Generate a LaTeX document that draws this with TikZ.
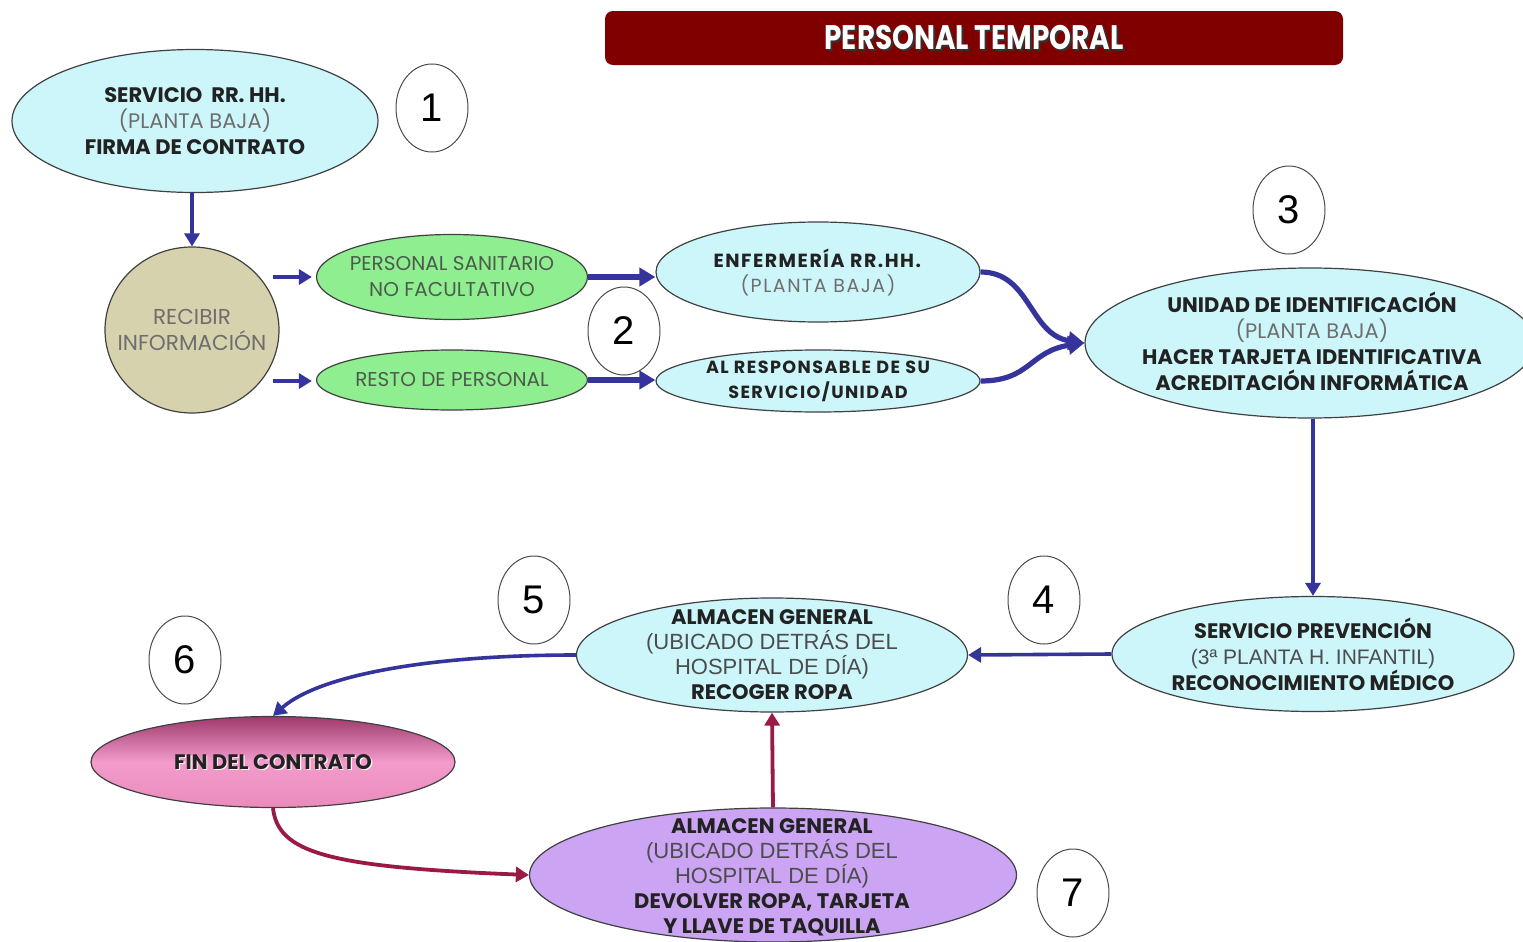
\documentclass[tikz,border=0pt]{standalone}
\usepackage{fontspec}
\setmainfont{Poppins}
\newfontfamily\arialf{Liberation Sans}
\usetikzlibrary{shapes.geometric,arrows.meta,calc}
\definecolor{cy}{HTML}{CCF6FA}
\definecolor{gr}{HTML}{8FEE8F}
\definecolor{kh}{HTML}{D7D2AE}
\definecolor{lav}{HTML}{CBA4F4}
\definecolor{titred}{HTML}{800000}
\definecolor{arrblue}{HTML}{34349C}
\definecolor{arrred}{HTML}{9A1A46}
\definecolor{lighttxt}{HTML}{6E6E6E}
\definecolor{greentxt}{HTML}{4C5C4C}
\definecolor{darktxt}{HTML}{222222}
\definecolor{pinktop}{HTML}{9E3A6C}
\definecolor{pinkmid}{HTML}{F39BCB}
\definecolor{pinkbot}{HTML}{E98CBD}
\begin{document}
\begin{tikzpicture}[x=0.5pt,y=-0.5pt,
  ell/.style={ellipse, draw=black!75, line width=0.6pt, inner sep=0pt},
  numc/.style={ellipse, draw=black!70, fill=white, line width=0.5pt, minimum width=36pt, minimum height=44pt, inner sep=0pt, font=\arialf\fontsize{20}{20}\selectfont},
  txt/.style={align=center, inner sep=0pt, text=darktxt, font=\fontsize{10.5}{13}\selectfont},
  barrow/.style={draw=arrblue, line width=2.6pt, -{Triangle[length=8pt,width=9pt]}},
  tarrow/.style={draw=arrblue, line width=1.8pt, -{Triangle[length=6.5pt,width=7.5pt]}},
  rarrow/.style={draw=arrred, line width=1.9pt, -{Triangle[length=6.5pt,width=7.5pt]}}]
\useasboundingbox (0,0) rectangle (1523,942);
\clip (0,0) rectangle (1523,942);
% title
\node[fill=titred, rounded corners=4pt, minimum width=369pt, minimum height=27pt, inner sep=0pt] (title) at (974,38) {};
\node[text=black!80, font=\bfseries\fontsize{17}{17}\selectfont] (titlesh) at ($(title)+(2,2)$) {\scalebox{0.82}[1]{PERSONAL TEMPORAL}};
\node[text=white, font=\bfseries\fontsize{17}{17}\selectfont] (titlet) at (title) {\scalebox{0.82}[1]{PERSONAL TEMPORAL}};
% nodes
\node[ell, fill=cy, minimum width=183pt, minimum height=71.5pt] (n1) at (195,121) {};
\node[txt] (n1t) at (n1) {\textbf{SERVICIO\ \ RR. HH.}\\{\color{lighttxt}(PLANTA BAJA)}\\\textbf{FIRMA DE CONTRATO}};
\node[numc] (c1) at (432,108) {1};
\node[ell, fill=kh, minimum width=87pt, minimum height=83pt] (rec) at (192,330) {};
\node[txt, text=lighttxt, font=\fontsize{10.8}{13}\selectfont] (rect) at (rec) {RECIBIR\\INFORMACIÓN};
\node[ell, fill=gr, minimum width=135.5pt, minimum height=42.5pt] (g1) at (452,277) {};
\node[txt, text=greentxt, font=\fontsize{10}{13}\selectfont] (g1t) at (g1) {PERSONAL SANITARIO\\NO FACULTATIVO};
\node[ell, fill=gr, minimum width=135.5pt, minimum height=30pt] (g2) at (452,380) {};
\node[txt, text=greentxt, font=\fontsize{10}{13}\selectfont] (g2t) at (g2) {RESTO DE PERSONAL};
\node[numc] (c2) at (624,331) {2};
\node[ell, fill=cy, minimum width=162pt, minimum height=50pt] (enf) at (818,272) {};
\node[txt, font=\fontsize{9.5}{12.5}\selectfont\addfontfeature{LetterSpace=8}] (enft) at (enf) {\textbf{ENFERMERÍA RR.HH.}\\{\color{lighttxt}(PLANTA BAJA)}};
\node[ell, fill=cy, minimum width=162pt, minimum height=31pt] (resp) at (818,381) {};
\node[txt, font=\bfseries\fontsize{8.8}{12.5}\selectfont\addfontfeature{LetterSpace=8}] (respt) at (resp) {AL RESPONSABLE DE SU\\SERVICIO/UNIDAD};
\node[numc] (c3) at (1289,210) {3};
\node[ell, fill=cy, minimum width=225pt, minimum height=75pt] (uni) at (1310,343) {};
\node[txt] (unit) at (1312,341) {\textbf{UNIDAD DE IDENTIFICACIÓN}\\{\color{lighttxt}(PLANTA BAJA)}\\\textbf{HACER TARJETA IDENTIFICATIVA}\\\textbf{ACREDITACIÓN INFORMÁTICA}};
\node[ell, fill=cy, minimum width=201pt, minimum height=57.5pt] (prev) at (1313,654) {};
\node[txt] (prevt) at (prev) {\textbf{SERVICIO PREVENCIÓN}\\{\arialf\fontsize{10.5}{13}\selectfont\color{black!70}(3ª PLANTA H. INFANTIL)}\\\textbf{RECONOCIMIENTO MÉDICO}};
\node[numc] (c4) at (1044,600) {4};
\node[ell, fill=cy, minimum width=195.5pt, minimum height=57pt] (alm1) at (772,655) {};
\node[txt, font=\fontsize{10.5}{12.5}\selectfont] (alm1t) at (alm1) {\textbf{ALMACEN GENERAL}\\{\arialf\fontsize{11}{12.5}\selectfont\color{black!70}(UBICADO DETRÁS DEL}\\{\arialf\fontsize{11}{12.5}\selectfont\color{black!70}HOSPITAL DE DÍA)}\\\textbf{RECOGER ROPA}};
\node[numc] (c5) at (534,600) {5};
\node[numc] (c6) at (185,660) {6};
\node[ell, top color=pinktop, bottom color=pinkbot, middle color=pinkmid, minimum width=182pt, minimum height=45.5pt] (fin) at (273,762) {};
\node[txt, text=white!85!pink] (fintsh) at ($(fin)+(1.2,1.2)$) {\textbf{FIN DEL CONTRATO}};
\node[txt] (fint) at (fin) {\textbf{FIN DEL CONTRATO}};
\node[ell, fill=lav, minimum width=243.5pt, minimum height=67pt] (alm2) at (773,875) {};
\node[txt, font=\fontsize{10.5}{12.5}\selectfont] (alm2t) at (772,877) {\textbf{ALMACEN GENERAL}\\{\arialf\fontsize{11}{12.5}\selectfont\color{black!70}(UBICADO DETRÁS DEL}\\{\arialf\fontsize{11}{12.5}\selectfont\color{black!70}HOSPITAL DE DÍA)}\\\textbf{DEVOLVER ROPA, TARJETA}\\\textbf{Y LLAVE DE TAQUILLA}};
\node[numc] (c7) at (1073,893) {7};
% connectors
\coordinate (a1s) at (273,277);
\coordinate (a2s) at (273,381);
\draw[tarrow] (rec.north |- n1.south) -- (rec.north);
\draw[tarrow, shorten >=2pt] (a1s) -- (a1s -| g1.west);
\draw[tarrow, shorten >=2pt] (a2s) -- (a2s -| g2.west);
\draw[barrow] (g1.east) -- (g1.east -| enf.west);
\draw[barrow] (g2.east) -- (g2.east -| resp.west);
\draw[barrow] (enf.east) .. controls +(50,0) and +(-55,-8) .. (uni.west);
\draw[barrow] (resp.east) .. controls +(50,0) and +(-55,8) .. (uni.west);
\draw[tarrow] (prev.north |- uni.south) -- (prev.north);
\draw[tarrow] (prev.west) -- (alm1.east);
\draw[tarrow] (alm1.west) .. controls +(-150,0) and +(45,-40) .. (fin.north);
\draw[rarrow] (fin.south) .. controls +(5,45) and +(-200,-8) .. (alm2.west);
\draw[rarrow] (alm2.north) -- (alm1.south);
\end{tikzpicture}
\end{document}
